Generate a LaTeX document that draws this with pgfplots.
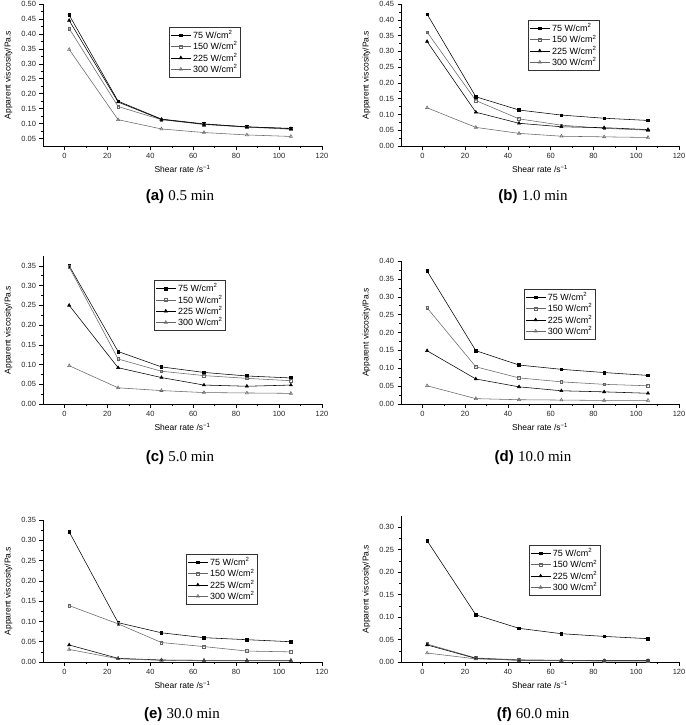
\documentclass[border=0pt]{standalone}
\usepackage{pgfplots}
\usepackage{pgfplotstable}
\pgfplotsset{compat=1.18}
\usepackage{fontspec}
\setmainfont{Liberation Sans}
\newfontfamily\seriffont{Liberation Serif}

\pgfplotstableread{
x a b c d
2.2 0.463 0.418 0.445 0.348
25 0.175 0.157 0.172 0.113
45.2 0.115 0.113 0.114 0.082
65 0.099 0.097 0.098 0.070
85 0.089 0.088 0.089 0.062
105.5 0.084 0.081 0.083 0.057
}\tabA
\pgfplotstableread{
x a b c d
2.2 0.418 0.361 0.331 0.121
25 0.156 0.144 0.107 0.059
45.2 0.114 0.086 0.072 0.040
65 0.098 0.066 0.061 0.031
85 0.088 0.056 0.058 0.029
105.5 0.081 0.050 0.052 0.027
}\tabB
\pgfplotstableread{
x a b c d
2.2 0.350 0.347 0.250 0.097
25 0.133 0.114 0.092 0.041
45.2 0.094 0.083 0.067 0.034
65 0.080 0.072 0.048 0.029
85 0.071 0.065 0.045 0.028
105.5 0.066 0.059 0.048 0.027
}\tabC
\pgfplotstableread{
x a b c d
2.2 0.372 0.269 0.149 0.051
25 0.149 0.104 0.070 0.015
45.2 0.109 0.073 0.048 0.012
65 0.097 0.062 0.037 0.011
85 0.088 0.055 0.034 0.010
105.5 0.080 0.051 0.030 0.010
}\tabD
\pgfplotstableread{
x a b c d
2.2 0.321 0.139 0.042 0.031
25 0.097 0.094 0.009 0.008
45.2 0.072 0.048 0.005 0.004
65 0.060 0.038 0.004 0.003
85 0.055 0.027 0.004 0.003
105.5 0.050 0.025 0.004 0.003
}\tabE
\pgfplotstableread{
x a b c d
2.2 0.270 0.040 0.038 0.020
25 0.105 0.009 0.008 0.007
45.2 0.075 0.005 0.004 0.004
65 0.063 0.004 0.003 0.003
85 0.057 0.003 0.003 0.002
105.5 0.052 0.003 0.003 0.002
}\tabF

\pgfplotsset{
  visc/.style={
    scale only axis,
    axis lines*=left,
    xmin=-10, xmax=120, xtick={0,20,40,60,80,100,120}, minor x tick num=1,
    minor y tick num=1,
    tick align=outside, major tick length=3.5pt, minor tick length=2pt,
    tick style={black, line width=0.5pt},
    axis line style={black, line width=0.6pt},
    ticklabel style={font=\fontsize{7.5}{8}\selectfont, text=black!85},
    /pgf/number format/assume math mode=true,
    yticklabel style={/pgf/number format/.cd, fixed, fixed zerofill, precision=2},
    xlabel={Shear rate /s\textsuperscript{−1}},
    ylabel={Apparent viscosity/Pa.s},
    ylabel style={yshift=2pt},
    label style={font=\fontsize{8.5}{9}\selectfont},
    legend style={draw=black!80, line width=0.5pt, font=\fontsize{9}{10}\selectfont, anchor=north west, inner sep=1.2pt, row sep=-2.2pt, cells={anchor=west}},
    legend image code/.code={\draw[mark repeat=2,mark phase=2,##1] plot coordinates {(0pt,0pt) (10pt,0pt) (20pt,0pt)};},
    every axis plot/.append style={line width=0.55pt},
  },
  s1/.style={black, mark=square*, mark size=1.3pt},
  s2/.style={black!60, mark=square, mark size=1.3pt, mark options={fill=white}},
  s3/.style={black, mark=triangle*, mark size=1.8pt},
  s4/.style={black!60, mark=triangle, mark size=1.8pt, mark options={fill=white}},
}
\newcommand{\fourseries}[1]{%
  \addplot[s1] table[x=x,y=a]{#1};
  \addplot[s2] table[x=x,y=b]{#1};
  \addplot[s3] table[x=x,y=c]{#1};
  \addplot[s4] table[x=x,y=d]{#1};
  \legend{75 W/cm\textsuperscript{2},150 W/cm\textsuperscript{2},225 W/cm\textsuperscript{2},300 W/cm\textsuperscript{2}}
}

\begin{document}
\begin{tikzpicture}
\useasboundingbox (0,0) rectangle (685pt,-725pt);

% (a)
\begin{axis}[visc, at={(43pt,-146pt)}, anchor=south west, width=279pt, height=142pt,
  ymin=0.025, ymax=0.5, ytick={0.05,0.10,0.15,0.20,0.25,0.30,0.35,0.40,0.45,0.50},
  legend style={at={(0.452,0.838)}}]
\fourseries{\tabA}
\end{axis}

% (b)
\begin{axis}[visc, at={(401pt,-146pt)}, anchor=south west, width=278pt, height=142pt,
  ymin=0, ymax=0.45, ytick={0,0.05,0.10,0.15,0.20,0.25,0.30,0.35,0.40,0.45},
  legend style={at={(0.457,0.887)}}]
\fourseries{\tabB}
\end{axis}

% (c)
\begin{axis}[visc, at={(43pt,-404pt)}, anchor=south west, width=279pt, height=148pt,
  ymin=0, ymax=0.375, ytick={0,0.05,0.10,0.15,0.20,0.25,0.30,0.35},
  legend style={at={(0.398,0.836)}}]
\fourseries{\tabC}
\end{axis}

% (d)
\begin{axis}[visc, at={(401pt,-404pt)}, anchor=south west, width=278pt, height=143pt,
  ymin=0, ymax=0.40, ytick={0,0.05,0.10,0.15,0.20,0.25,0.30,0.35,0.40},
  legend style={at={(0.442,0.804)}}]
\fourseries{\tabD}
\end{axis}

% (e)
\begin{axis}[visc, at={(43pt,-662pt)}, anchor=south west, width=279pt, height=142pt,
  ymin=0, ymax=0.35, ytick={0,0.05,0.10,0.15,0.20,0.25,0.30,0.35},
  legend style={at={(0.513,0.76)}}]
\fourseries{\tabE}
\end{axis}

% (f)
\begin{axis}[visc, at={(401pt,-662pt)}, anchor=south west, width=278pt, height=146pt,
  ymin=0, ymax=0.325, ytick={0,0.05,0.10,0.15,0.20,0.25,0.30},
  legend style={at={(0.46,0.80)}}]
\fourseries{\tabF}
\end{axis}

\node[font=\fontsize{15}{17}\selectfont] at (180pt,-197pt) {\textbf{(a)} {\seriffont 0.5 min}};
\node[font=\fontsize{15}{17}\selectfont] at (533pt,-197pt) {\textbf{(b)} {\seriffont 1.0 min}};
\node[font=\fontsize{15}{17}\selectfont] at (180pt,-458pt) {\textbf{(c)} {\seriffont 5.0 min}};
\node[font=\fontsize{15}{17}\selectfont] at (533pt,-458pt) {\textbf{(d)} {\seriffont 10.0 min}};
\node[font=\fontsize{15}{17}\selectfont] at (182pt,-715pt) {\textbf{(e)} {\seriffont 30.0 min}};
\node[font=\fontsize{15}{17}\selectfont] at (533pt,-715pt) {\textbf{(f)} {\seriffont 60.0 min}};
\end{tikzpicture}
\end{document}
